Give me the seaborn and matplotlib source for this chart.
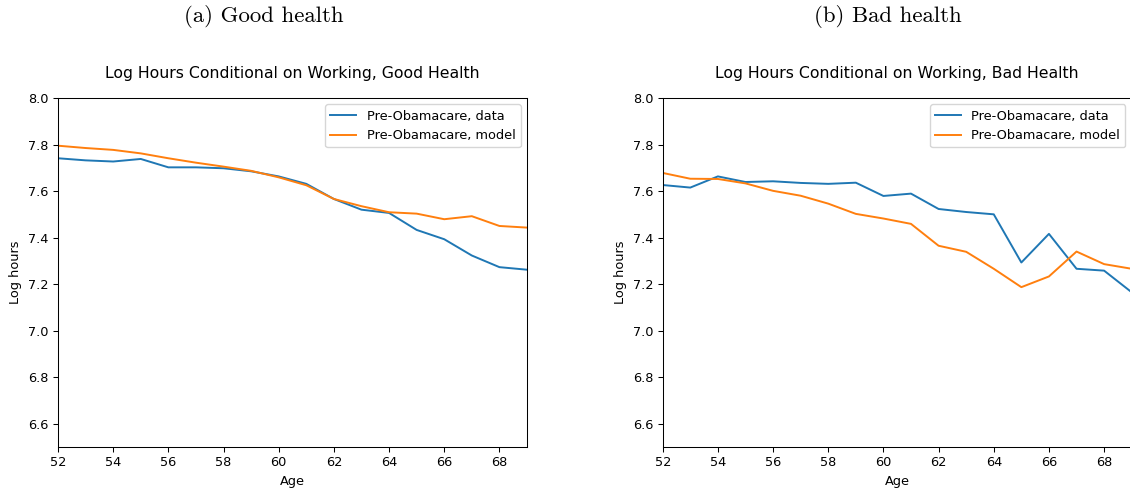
import numpy as np
import pandas as pd
import matplotlib
matplotlib.use("Agg")
import matplotlib.pyplot as plt
import seaborn as sns

ages = list(range(52, 70))

good_data = [7.741, 7.732, 7.727, 7.738, 7.702, 7.702, 7.698, 7.685, 7.663, 7.631,
             7.566, 7.520, 7.506, 7.433, 7.393, 7.323, 7.273, 7.262]
good_model = [7.795, 7.785, 7.777, 7.762, 7.741, 7.722, 7.705, 7.687, 7.659, 7.625,
              7.566, 7.535, 7.509, 7.503, 7.479, 7.492, 7.450, 7.443]
bad_data = [7.626, 7.615, 7.663, 7.639, 7.642, 7.635, 7.631, 7.636, 7.579, 7.589,
            7.523, 7.510, 7.500, 7.293, 7.416, 7.266, 7.258, 7.165]
bad_model = [7.678, 7.653, 7.652, 7.633, 7.601, 7.580, 7.546, 7.502, 7.482, 7.459,
             7.365, 7.339, 7.266, 7.187, 7.233, 7.340, 7.286, 7.266]

series_labels = ["Pre-Obamacare, data", "Pre-Obamacare, model"]
panel_titles = ["Log Hours Conditional on Working, Good Health",
                "Log Hours Conditional on Working, Bad Health"]
panel_captions = ["(a) Good health", "(b) Bad health"]
yticks = [6.6, 6.8, 7.0, 7.2, 7.4, 7.6, 7.8, 8.0]
xticks = [52, 54, 56, 58, 60, 62, 64, 66, 68]

W, H = 1130, 491
fig = plt.figure(figsize=(W / 100, H / 100), dpi=100)

panels = [(good_data, good_model), (bad_data, bad_model)]
lefts = [58, 662.7]
caption_x = [264, 888]
colors = ["#1f77b4", "#ff7f0e"]

serif = ["cmr10", "DejaVu Serif"]
fs = 9.3

for i, (d, m) in enumerate(panels):
    ax = fig.add_axes([lefts[i] / W, 44 / H, 469 / W, 349 / H])
    df = pd.DataFrame({"Age": ages * 2,
                       "val": d + m,
                       "series": [series_labels[0]] * len(ages) + [series_labels[1]] * len(ages)})
    for j, lab in enumerate(series_labels):
        sub = df[df["series"] == lab]
        sns.lineplot(data=sub, x="Age", y="val", ax=ax, color=colors[j], label=lab,
                     linewidth=1.4)
    ax.set_xlim(52, 69)
    ax.set_ylim(6.5, 8.0)
    ax.set_xticks(xticks)
    ax.set_yticks(yticks)
    ax.set_xlabel("Age", fontsize=fs)
    ax.set_ylabel("Log hours", fontsize=fs)
    ax.set_title(panel_titles[i], fontsize=11.3, pad=14.4)
    ax.tick_params(labelsize=fs, length=3.3, width=0.75)
    for sp in ax.spines.values():
        sp.set_linewidth(0.75)
    ax.legend(loc="upper right", fontsize=fs)
    fig.text(caption_x[i] / W, 1 - 17 / H, panel_captions[i], ha="center", va="center",
             fontsize=16.4, family=serif)

fig.savefig("out.png", dpi=100)
